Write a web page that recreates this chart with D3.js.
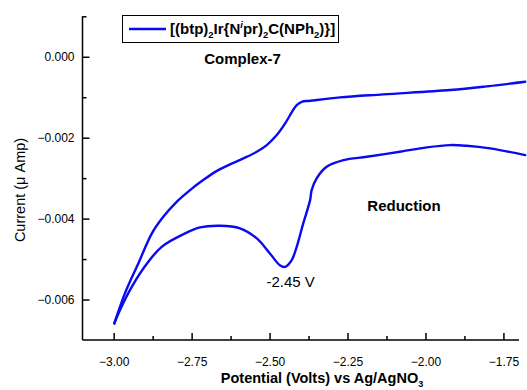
<!DOCTYPE html>
<html><head><meta charset="utf-8">
<script src="https://cdn.jsdelivr.net/npm/d3@7"></script>
<style>body{margin:0;background:#fff}svg{display:block}text{font-family:"Liberation Sans",Arial,sans-serif}</style>
</head><body><svg id="c" width="527" height="390"></svg>
<script>
// Forward (cathodic) sweep: from -1.68 V down to -3.00 V
const forwardV = [-1.680,-1.793,-1.868,-1.921,-1.996,-2.082,-2.188,-2.263,-2.317,-2.349,-2.365,-2.370,-2.392,-2.413,-2.429,-2.450,-2.467,-2.499,-2.541,-2.595,-2.659,-2.723,-2.771,-2.846,-2.889,-2.942,-2.980,-2.998];
const forwardI = [-0.00243,-0.002265,-0.00220,-0.002183,-0.00224,-0.002349,-0.002472,-0.002554,-0.002719,-0.003006,-0.003295,-0.003543,-0.004119,-0.004697,-0.005026,-0.005192,-0.00515,-0.00486,-0.00449,-0.004242,-0.004178,-0.004218,-0.004366,-0.004697,-0.005068,-0.005686,-0.006262,-0.006591];
// Reverse (anodic) sweep: from -3.00 V back to -1.68 V
const reverseV = [-2.998,-2.964,-2.921,-2.877,-2.841,-2.798,-2.755,-2.713,-2.670,-2.627,-2.584,-2.541,-2.509,-2.477,-2.450,-2.429,-2.413,-2.397,-2.370,-2.274,-2.135,-1.921,-1.814,-1.680];
const reverseI = [-0.006591,-0.005849,-0.005108,-0.004359,-0.003956,-0.003585,-0.003295,-0.003048,-0.002826,-0.00266,-0.002512,-0.002349,-0.002183,-0.001936,-0.001646,-0.001375,-0.001194,-0.001112,-0.001088,-0.001004,-0.00093,-0.000823,-0.000742,-0.000618];
const xMajor = [-3.00,-2.75,-2.50,-2.25,-2.00,-1.75];
const xMinor = [-2.875,-2.625,-2.375,-2.125,-1.875];
const yMajor = [0.000,-0.002,-0.004,-0.006];
const yMinor = [0.001,-0.001,-0.003,-0.005];

const svg = d3.select("#c");
const x = d3.scaleLinear().domain([-3.1,-1.70]).range([82.5,519]);
const y = d3.scaleLinear().domain([-0.007,0.001]).range([340,16.3]);

const plot = svg.append("g");
const line = d3.line().x(d=>x(d[0])).y(d=>y(d[1])).curve(d3.curveCatmullRom.alpha(0.5));
const fwd = forwardV.map((v,i)=>[v,forwardI[i]]);
const rev = reverseV.map((v,i)=>[v,reverseI[i]]);
[fwd,rev].forEach(d=>plot.append("path").attr("d",line(d)).attr("fill","none")
  .attr("stroke","#0a0af0").attr("stroke-width",2.4).attr("stroke-linejoin","round").attr("stroke-linecap","round"));

// axes
const gx = svg.append("g").attr("transform",`translate(0,${y(-0.007)})`);
gx.call(d3.axisBottom(x).tickValues(xMajor).tickSize(-7).tickSizeOuter(0).tickPadding(17).tickFormat(d3.format(".2f")));
gx.select(".domain").attr("d",`M${x.range()[0]},0H${x.range()[1]}`);
const gxm = svg.append("g").attr("transform",`translate(0,${y(-0.007)})`);
gxm.call(d3.axisBottom(x).tickValues(xMinor).tickSize(-4).tickFormat(""));
gxm.select(".domain").remove();

const gy = svg.append("g").attr("transform",`translate(${x(-3.1)},0)`);
gy.call(d3.axisLeft(y).tickValues(yMajor).tickSize(-7).tickSizeOuter(0).tickPadding(8).tickFormat(d3.format(".3f")));
gy.select(".domain").attr("d",`M0,${y.range()[1]}V${y.range()[0]}`);
const gym = svg.append("g").attr("transform",`translate(${x(-3.1)},0)`);
gym.call(d3.axisLeft(y).tickValues(yMinor).tickSize(-4).tickFormat(""));
gym.select(".domain").remove();

svg.selectAll(".tick line, .domain").attr("stroke","#000").attr("stroke-width",1.5);
svg.selectAll(".tick text").attr("font-size",12).attr("fill","#000").attr("font-family","Liberation Sans, Arial, sans-serif");

// axis titles
const xt = svg.append("text").attr("x",322).attr("y",383).attr("text-anchor","middle")
  .attr("font-size",14.5).attr("font-weight","bold");
xt.append("tspan").text("Potential (Volts) vs Ag/AgNO");
xt.append("tspan").attr("font-size",9).attr("dy",4).text("3");

svg.append("text").attr("transform","translate(25,190) rotate(-90)").attr("text-anchor","middle")
  .attr("font-size",14.5).text("Current (\u03bc Amp)");

// legend
svg.append("rect").attr("x",122.5).attr("y",15.5).attr("width",216).attr("height",27)
  .attr("fill","none").attr("stroke","#000").attr("stroke-width",1);
svg.append("line").attr("x1",129).attr("x2",166).attr("y1",29).attr("y2",29).attr("stroke","#0a0af0").attr("stroke-width",2.4);
const lt = svg.append("text").attr("x",170).attr("y",34).attr("font-size",15).attr("font-weight","bold");
const parts = [["[(btp)",0],["2",1],["Ir{N",0],["i",2],["pr)",0],["2",1],["C(NPh",0],["2",1],[")}]",0]];
parts.forEach((p,i)=>{
  const prev = i>0?parts[i-1][1]:0;
  let dy = 0;
  if(p[1]===1) dy = 4; else if(p[1]===2) dy = -6;
  if(prev===1) dy -= 4; else if(prev===2) dy += 6;
  const t = lt.append("tspan").attr("dy",dy).text(p[0]);
  if(p[1]===1) t.attr("font-size",9.5);
  if(p[1]===2) t.attr("font-size",9.5).attr("font-style","italic");
});

// annotations
svg.append("text").attr("x",242.5).attr("y",64).attr("text-anchor","middle").attr("font-size",15).attr("font-weight","bold").text("Complex-7");
svg.append("text").attr("x",404).attr("y",211).attr("text-anchor","middle").attr("font-size",15).attr("font-weight","bold").text("Reduction");
svg.append("text").attr("x",266.5).attr("y",287).attr("font-size",15).text("-2.45 V");
</script></body></html>
